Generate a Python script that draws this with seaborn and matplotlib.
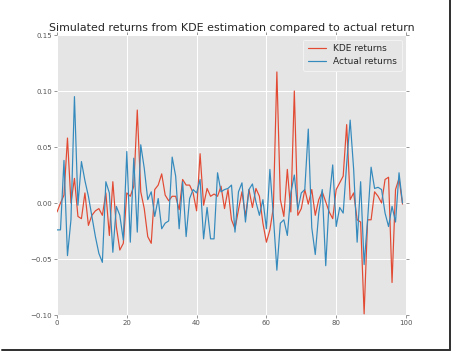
import numpy as np
import pandas as pd
import seaborn as sns
import matplotlib.pyplot as plt
from matplotlib.lines import Line2D

# значення
kde_returns = [
    -0.008, 0.000, 0.007, 0.058, 0.000, 0.022, -0.012, -0.014, 0.009, -0.020,
    -0.011, -0.007, -0.005, -0.011, 0.009, -0.029, 0.019, -0.021, -0.042, -0.036,
    0.009, 0.006, 0.015, 0.083, 0.010, -0.005, -0.030, -0.036, 0.012, 0.016,
    0.026, 0.007, 0.002, 0.006, 0.006, -0.006, 0.021, 0.016, 0.016, 0.009,
    -0.007, 0.044, -0.002, 0.013, 0.006, 0.008, 0.006, 0.015, -0.005, 0.012,
    -0.015, -0.023, -0.006, 0.010, -0.012, 0.012, -0.004, 0.013, 0.006, -0.018,
    -0.035, -0.024, -0.004, 0.117, 0.003, -0.012, 0.030, -0.008, 0.100, -0.011,
    -0.005, 0.012, -0.001, 0.012, -0.011, 0.003, 0.010, 0.001, -0.008, -0.014,
    0.012, 0.018, 0.024, 0.070, 0.003, 0.009, -0.015, -0.017, -0.099, -0.015,
    -0.015, 0.010, 0.006, 0.000, 0.021, 0.023, -0.071, 0.012, 0.022, -0.001,
]

actual_returns = [
    -0.024, -0.024, 0.038, -0.047, -0.015, 0.095, -0.002, 0.037, 0.020, 0.006,
    -0.012, -0.030, -0.045, -0.053, 0.019, 0.009, -0.044, -0.003, -0.011, -0.033,
    0.046, -0.035, 0.040, -0.026, 0.052, 0.031, 0.003, 0.010, -0.012, 0.004,
    -0.023, -0.018, -0.016, 0.041, 0.024, -0.023, 0.019, -0.030, 0.004, 0.012,
    0.009, 0.021, -0.032, -0.004, -0.032, -0.032, 0.027, 0.010, 0.012, 0.013,
    0.016, -0.026, 0.010, 0.018, -0.017, 0.012, 0.017, 0.001, -0.011, 0.003,
    -0.023, 0.030, -0.012, -0.060, -0.018, -0.015, -0.029, 0.009, 0.025, -0.006,
    0.009, 0.012, 0.066, -0.022, -0.046, -0.009, 0.012, -0.056, 0.003, 0.034,
    -0.021, -0.004, -0.009, 0.035, 0.074, 0.030, -0.035, 0.019, -0.055, -0.015,
    0.032, 0.013, 0.014, 0.012, -0.009, -0.021, -0.003, -0.017, 0.027, 0.000,
]

x_ticks = [0, 20, 40, 60, 80, 100]
y_ticks = [-0.10, -0.05, 0.00, 0.05, 0.10, 0.15]

df = pd.DataFrame({
    "day": np.arange(len(kde_returns)),
    "KDE returns": kde_returns,
    "Actual returns": actual_returns,
})

sns.set_theme(style="darkgrid", rc={
    "axes.facecolor": "#E5E5E5",
    "grid.color": "white",
    "grid.linewidth": 1.0,
    "xtick.color": "#555555",
    "ytick.color": "#555555",
    "xtick.direction": "out",
    "ytick.direction": "out",
    "xtick.major.size": 3,
    "ytick.major.size": 3,
    "xtick.major.width": 0.6,
    "ytick.major.width": 0.6,
    "xtick.top": True,
    "ytick.right": True,
    "xtick.bottom": True,
    "ytick.left": True,
})
plt.rcParams["font.family"] = ["DejaVu Sans"]

fig, ax = plt.subplots(figsize=(455 / 72, 354 / 72), dpi=72)
fig.subplots_adjust(left=57 / 455, right=406 / 455, top=1 - 35 / 354, bottom=1 - 315 / 354)

sns.lineplot(data=df, x="day", y="KDE returns", ax=ax, color="#E24A33",
             linewidth=1.2, label="KDE returns")
sns.lineplot(data=df, x="day", y="Actual returns", ax=ax, color="#348ABD",
             linewidth=1.2, label="Actual returns")

ax.set_xlim(0, 100)
ax.set_ylim(-0.10, 0.15)
ax.set_xticks(x_ticks)
ax.set_yticks(y_ticks)
ax.set_yticklabels([f"{v:.2f}".replace("-", "\u2212") for v in y_ticks])
ax.tick_params(labelsize=7, pad=2)
ax.set_xlabel("")
ax.set_ylabel("")
for s in ax.spines.values():
    s.set_visible(False)

ax.set_title("Simulated returns from KDE estimation compared to actual return",
             fontsize=11, pad=4)

leg = ax.legend(loc="upper right", fontsize=9, frameon=True, handlelength=2.0,
                borderpad=0.5, labelspacing=0.45)
leg.get_frame().set_facecolor("#E5E5E5")
leg.get_frame().set_edgecolor("#F2F2F2")
leg.get_frame().set_alpha(1)

# рамка-тінь скриншота
fig.add_artist(Line2D([449.5 / 455, 449.5 / 455], [4 / 354, 1], color="#333333",
                      linewidth=2, transform=fig.transFigure))
fig.add_artist(Line2D([2 / 455, 450 / 455], [4 / 354, 4 / 354], color="#333333",
                      linewidth=2, transform=fig.transFigure))

plt.savefig("out.png", dpi=72)
